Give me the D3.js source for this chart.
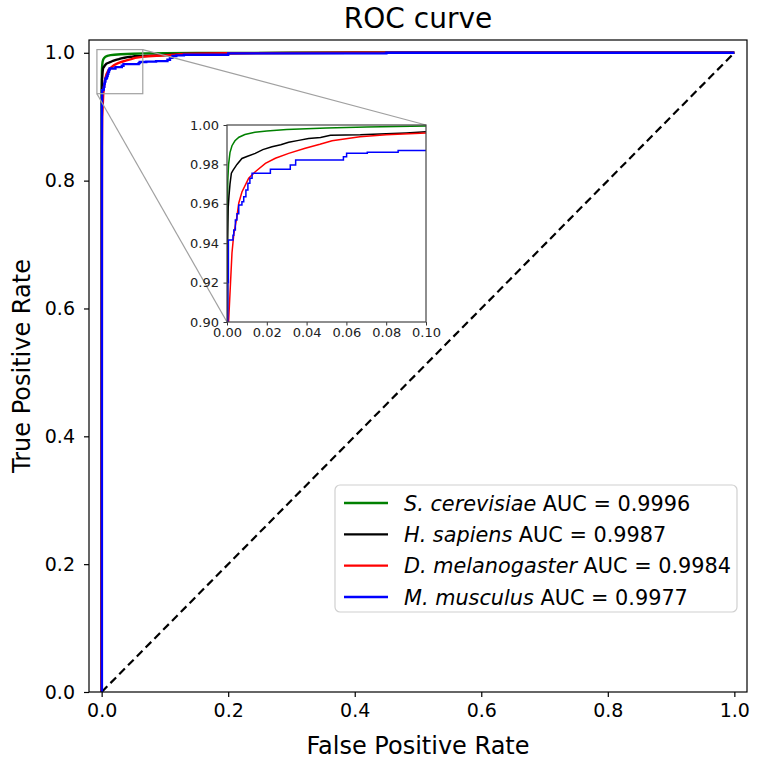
<!DOCTYPE html>
<html>
<head>
<meta charset="utf-8">
<script src="https://cdn.jsdelivr.net/npm/d3@7"></script>
<style>
  body { margin: 0; background: #fff; }
  svg { font-family: "DejaVu Sans", sans-serif; }
</style>
</head>
<body>
<svg id="chart" width="757" height="767"></svg>
<script>
// legend entries
const species = ['S. cerevisiae', 'H. sapiens', 'D. melanogaster', 'M. musculus'];
const aucValues = ['0.9996', '0.9987', '0.9984', '0.9977'];
const colors = ['green', 'black', 'red', 'blue'];

// ticks
const mainTicks = [0, 0.2, 0.4, 0.6, 0.8, 1.0];
const insetXTicks = [0, 0.02, 0.04, 0.06, 0.08, 0.10];
const insetYTicks = [0.90, 0.92, 0.94, 0.96, 0.98, 1.00];

// ROC curves
const scerFpr = [0, 0.0002, 0.0004, 0.0008, 0.0015, 0.0025, 0.004, 0.006, 0.009, 0.014, 0.02, 0.03, 0.05, 0.07, 0.1, 0.15, 0.3, 1];
const scerTpr = [0, 0.95, 0.972, 0.98, 0.986, 0.9895, 0.992, 0.9938, 0.9952, 0.9963, 0.997, 0.9977, 0.9985, 0.999, 0.9995, 0.9998, 1, 1];

const hsapFpr = [0, 0.0003, 0.0006, 0.001, 0.0015, 0.0022, 0.003, 0.005, 0.0075, 0.01, 0.0142, 0.018, 0.0226, 0.027, 0.031, 0.036, 0.041, 0.047, 0.052, 0.067, 0.08, 0.09, 0.1, 0.13, 0.2, 0.4, 1];
const hsapTpr = [0, 0.94, 0.958, 0.964, 0.97, 0.9755, 0.977, 0.98, 0.983, 0.984, 0.9856, 0.9875, 0.989, 0.99, 0.9912, 0.9922, 0.9932, 0.9937, 0.9948, 0.995, 0.9955, 0.996, 0.9966, 0.998, 0.9993, 1, 1];

const dmelFpr = [0, 0.0005, 0.0008, 0.0025, 0.0034, 0.005, 0.0059, 0.0075, 0.0109, 0.0142, 0.0193, 0.0243, 0.031, 0.0393, 0.0467, 0.0528, 0.0668, 0.08, 0.1, 0.13, 0.2, 0.4, 1];
const dmelTpr = [0, 0.85, 0.9, 0.935, 0.9445, 0.9535, 0.9603, 0.966, 0.973, 0.9763, 0.9805, 0.9831, 0.9856, 0.9882, 0.9902, 0.992, 0.994, 0.995, 0.996, 0.998, 0.9993, 1, 1];

// step curve (value holds until next fpr)
const mmusFpr = [0, 0.0004, 0.0007, 0.003, 0.0034, 0.0042, 0.005, 0.0059, 0.0075, 0.0084, 0.0095, 0.0105, 0.0115, 0.0126, 0.0218, 0.0318, 0.0345, 0.0585, 0.0601, 0.0705, 0.086, 0.104, 0.108, 0.112, 0.118, 0.13, 0.2, 0.45, 1];
const mmusTpr = [0, 0.92, 0.9416, 0.944, 0.9467, 0.9518, 0.955, 0.9594, 0.961, 0.9636, 0.967, 0.9704, 0.973, 0.9755, 0.9775, 0.9797, 0.9822, 0.9839, 0.9856, 0.9862, 0.987, 0.989, 0.992, 0.995, 0.996, 0.997, 0.999, 1, 1];

// zoom rectangle drawn on the main axes
const zoomBoxX = [-0.0075, 0.065];
const zoomBoxY = [0.936, 1.005];

const series = [
  { fpr: scerFpr, tpr: scerTpr, step: false },
  { fpr: hsapFpr, tpr: hsapTpr, step: false },
  { fpr: dmelFpr, tpr: dmelTpr, step: false },
  { fpr: mmusFpr, tpr: mmusTpr, step: true }
].map((s, i) => ({
  name: species[i],
  auc: aucValues[i],
  color: colors[i],
  step: s.step,
  points: s.fpr.map((f, j) => [f, s.tpr[j]])
}));

const svg = d3.select('#chart');
const margin = { top: 40, right: 10, bottom: 75, left: 89 },
  width = 757 - margin.left - margin.right,
  height = 767 - margin.top - margin.bottom;

const x = d3.scaleLinear().domain([-0.02, 1.02]).range([margin.left, margin.left + width]);
const y = d3.scaleLinear().domain([0, 1.02]).range([margin.top + height, margin.top]);

svg.append('defs').append('clipPath').attr('id', 'mainClip')
  .append('rect')
  .attr('x', margin.left).attr('y', margin.top)
  .attr('width', width).attr('height', height);

// title
svg.append('text')
  .attr('x', margin.left + width / 2).attr('y', 28)
  .attr('text-anchor', 'middle')
  .style('font-size', '28px')
  .text('ROC curve');

// axes
const xAxis = svg.append('g')
  .attr('transform', `translate(0,${margin.top + height})`)
  .call(d3.axisBottom(x).tickValues(mainTicks).tickFormat(d3.format('.1f')).tickSize(5).tickPadding(7));
const yAxis = svg.append('g')
  .attr('transform', `translate(${margin.left},0)`)
  .call(d3.axisLeft(y).tickValues(mainTicks).tickFormat(d3.format('.1f')).tickSize(5).tickPadding(9));
[xAxis, yAxis].forEach(a => {
  a.select('.domain').remove();
  a.selectAll('.tick line').attr('stroke', '#000').attr('stroke-width', 1.2);
  a.selectAll('.tick text').attr('fill', '#000').style('font-size', '19px').style('font-family', '"DejaVu Sans", sans-serif');
});

svg.append('text')
  .attr('x', margin.left + width / 2).attr('y', 754)
  .attr('text-anchor', 'middle')
  .style('font-size', '24px')
  .text('False Positive Rate');
svg.append('text')
  .attr('transform', `translate(30,${margin.top + height / 2}) rotate(-90)`)
  .attr('text-anchor', 'middle')
  .style('font-size', '24px')
  .text('True Positive Rate');

const plot = svg.append('g').attr('clip-path', 'url(#mainClip)');

// diagonal
plot.append('line')
  .attr('x1', x(0)).attr('y1', y(0)).attr('x2', x(1)).attr('y2', y(1))
  .attr('stroke', '#000').attr('stroke-width', 2.2)
  .attr('stroke-dasharray', '8,4.5');

const mainLine = d3.line().x(d => x(d[0])).y(d => y(d[1]));
series.forEach(s => {
  plot.append('path')
    .datum(s.points)
    .attr('d', mainLine.curve(s.step ? d3.curveStepAfter : d3.curveLinear))
    .attr('fill', 'none')
    .attr('stroke', s.color)
    .attr('stroke-width', 2.4);
});

// frame
svg.append('rect')
  .attr('x', margin.left).attr('y', margin.top)
  .attr('width', width).attr('height', height)
  .attr('fill', 'none').attr('stroke', '#000').attr('stroke-width', 1.2);

// inset
const inset = { left: 227, right: 426, top: 125, bottom: 322 };
const ix = d3.scaleLinear().domain([0, 0.1]).range([inset.left, inset.right]);
const iy = d3.scaleLinear().domain([0.9, 1.0]).range([inset.bottom, inset.top]);

// zoom marker and connectors
const zx0 = x(zoomBoxX[0]), zx1 = x(zoomBoxX[1]), zy0 = y(zoomBoxY[1]), zy1 = y(zoomBoxY[0]);
svg.append('rect')
  .attr('x', zx0).attr('y', zy0)
  .attr('width', zx1 - zx0).attr('height', zy1 - zy0)
  .attr('fill', 'none').attr('stroke', '#a0a0a0').attr('stroke-width', 1.2);
svg.append('line')
  .attr('x1', zx0).attr('y1', zy1).attr('x2', inset.left).attr('y2', inset.bottom)
  .attr('stroke', '#a0a0a0').attr('stroke-width', 1.2);
svg.append('line')
  .attr('x1', zx1).attr('y1', zy0).attr('x2', inset.right).attr('y2', inset.top)
  .attr('stroke', '#a0a0a0').attr('stroke-width', 1.2);

svg.append('rect')
  .attr('x', inset.left).attr('y', inset.top)
  .attr('width', inset.right - inset.left).attr('height', inset.bottom - inset.top)
  .attr('fill', '#fff');

svg.select('defs').append('clipPath').attr('id', 'insetClip')
  .append('rect')
  .attr('x', inset.left).attr('y', inset.top)
  .attr('width', inset.right - inset.left).attr('height', inset.bottom - inset.top);

const insetPlot = svg.append('g').attr('clip-path', 'url(#insetClip)');
const insetLine = d3.line().x(d => ix(d[0])).y(d => iy(d[1]));
series.forEach(s => {
  insetPlot.append('path')
    .datum(s.points)
    .attr('d', insetLine.curve(s.step ? d3.curveStepAfter : d3.curveLinear))
    .attr('fill', 'none')
    .attr('stroke', s.color)
    .attr('stroke-width', 1.5);
});

const ixAxis = svg.append('g')
  .attr('transform', `translate(0,${inset.bottom})`)
  .call(d3.axisBottom(ix).tickValues(insetXTicks).tickFormat(d3.format('.2f')).tickSize(3.5).tickPadding(2.5));
const iyAxis = svg.append('g')
  .attr('transform', `translate(${inset.left},0)`)
  .call(d3.axisLeft(iy).tickValues(insetYTicks).tickFormat(d3.format('.2f')).tickSize(3.5).tickPadding(4.5));
[ixAxis, iyAxis].forEach(a => {
  a.select('.domain').remove();
  a.selectAll('.tick line').attr('stroke', '#333').attr('stroke-width', 1);
  a.selectAll('.tick text').attr('fill', '#222').style('font-size', '13px').style('font-family', '"DejaVu Sans", sans-serif');
});

svg.append('rect')
  .attr('x', inset.left).attr('y', inset.top)
  .attr('width', inset.right - inset.left).attr('height', inset.bottom - inset.top)
  .attr('fill', 'none').attr('stroke', '#444').attr('stroke-width', 1.2);

// legend
const legend = svg.append('g');
legend.append('rect')
  .attr('x', 335).attr('y', 485)
  .attr('width', 402).attr('height', 127)
  .attr('rx', 5)
  .attr('fill', '#fff').attr('fill-opacity', 0.85)
  .attr('stroke', '#d0d0d0').attr('stroke-width', 1.2);

const rowY = d3.scalePoint().domain(species).range([503, 597]);
series.forEach(s => {
  const cy = rowY(s.name);
  legend.append('line')
    .attr('x1', 344).attr('x2', 388).attr('y1', cy).attr('y2', cy)
    .attr('stroke', s.color).attr('stroke-width', 2.4);
  const t = legend.append('text')
    .attr('x', 404).attr('y', cy + 7.5)
    .style('font-size', '20.8px');
  t.append('tspan').style('font-style', 'italic').text(s.name);
  t.append('tspan').text(' AUC = ' + s.auc);
});
</script>
</body>
</html>
